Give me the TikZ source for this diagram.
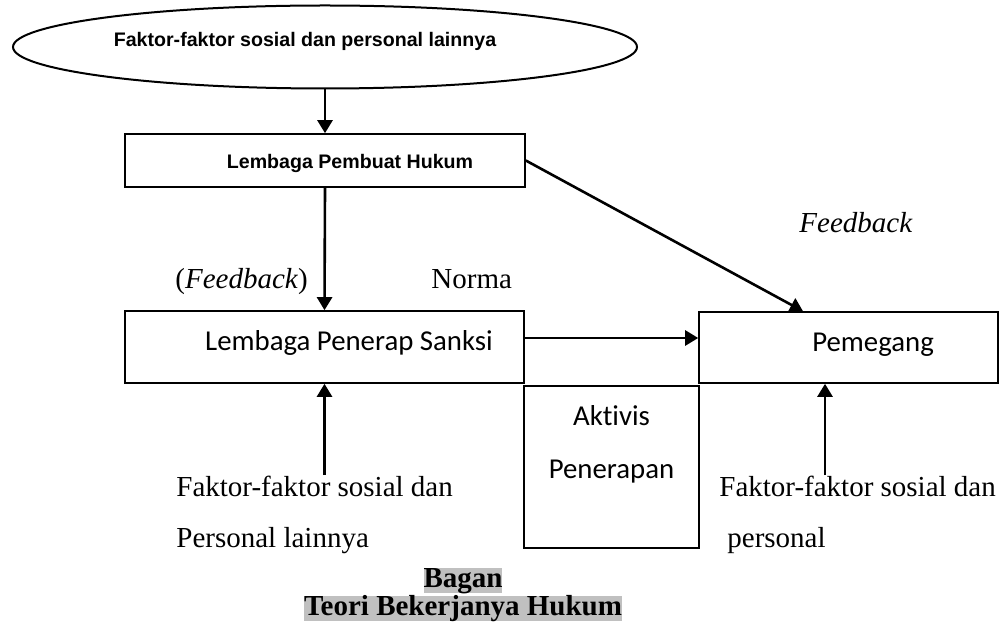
\documentclass[tikz,border=0pt]{standalone}
\usepackage{fontspec}
\setmainfont{Liberation Serif}
\newfontfamily\calibrifont{Carlito}[Ligatures=NoCommon]
\newfontfamily\arialfont{Liberation Sans}
\usetikzlibrary{arrows.meta}
\usetikzlibrary{shapes.geometric}

\definecolor{hlgray}{RGB}{192,192,192}

\tikzset{
  box/.style={draw, line width=.8pt, rectangle, inner sep=0pt},
  arr/.style={line width=1.3pt, -{Triangle[length=6.5pt,width=7.5pt]}},
  boldsans/.style={font=\arialfont\bfseries\fontsize{9.8}{12}\selectfont, anchor=base, inner sep=0pt},
  calsans/.style={font=\calibrifont\fontsize{14.4}{17}\selectfont, anchor=base, inner sep=0pt},
  serif/.style={font=\fontsize{14.5}{17}\selectfont, anchor=base west, inner sep=0pt},
  titel/.style={font=\bfseries\fontsize{14.5}{17}\selectfont, anchor=base, inner xsep=0pt, inner ysep=0pt,
    text height=9.6pt, text depth=3.2pt, fill=hlgray}
}

\begin{document}
\begin{tikzpicture}[x=.5pt, y=-.5pt]
\useasboundingbox (0,0) rectangle (1004,641);

\node[draw, ellipse, line width=1pt, minimum width=312pt, minimum height=41.5pt, inner sep=0pt] (faktor) at (325,47) {};
\node[boldsans] (faktortext) at (305,47) {Faktor-faktor sosial dan personal lainnya};

\node[box, minimum width=200pt, minimum height=26.5pt] (lph) at (325,160.5) {};
\node[boldsans] (lphtext) at (350,169) {Lembaga Pembuat Hukum};

\node[box, minimum width=199.5pt, minimum height=36pt] (lps) at (324.5,347) {};
\node[calsans] (lpstext) at (349,350) {Lembaga Penerap Sanksi};

\node[box, minimum width=149.5pt, minimum height=35.5pt] (pem) at (848.5,347.5) {};
\node[calsans] (pemtext) at (873,351) {Pemegang};

\node[box, minimum width=87.5pt, minimum height=81pt] (aktivis) at (611.5,467) {};
\node[calsans] (akt1) at (611.5,425) {Aktivis};
\node[calsans] (akt2) at (611.5,478) {Penerapan};

\node[serif] (fb1) at (175,288) {(\textit{Feedback})};
\node[serif] (norma) at (431,288) {Norma};
\node[serif] (fb2) at (799,233) {\textit{Feedback}};

\node[serif] (fl1) at (176,496) {Faktor-faktor sosial dan};
\node[serif] (fl2) at (176,547) {Personal lainnya};
\node[serif] (fr1) at (719,496) {Faktor-faktor sosial dan};
\node[serif] (fr2) at (727,547) {personal};

\node[titel] (bagan1) at (463,587) {Bagan};
\node[titel] (bagan2) at (463,615) {Teori Bekerjanya Hukum};

\coordinate (pemin) at ([xshift=-11.75pt]pem.south);
\coordinate (norm) at ([yshift=4.5pt]lps.east);

\draw[arr] (faktor.south) -- (lph.north);
\draw[arr] (lph.south) -- (lps.north);
\draw[arr] (lph.east) -- ([xshift=-22.75pt]pem.north);
\draw[arr] (norm) -- (norm -| pem.west);
\draw[arr] (lps.south |- fl1.north) -- (lps.south);
\draw[arr] (pemin |- fr1.north) -- (pemin);

\end{tikzpicture}
\end{document}
